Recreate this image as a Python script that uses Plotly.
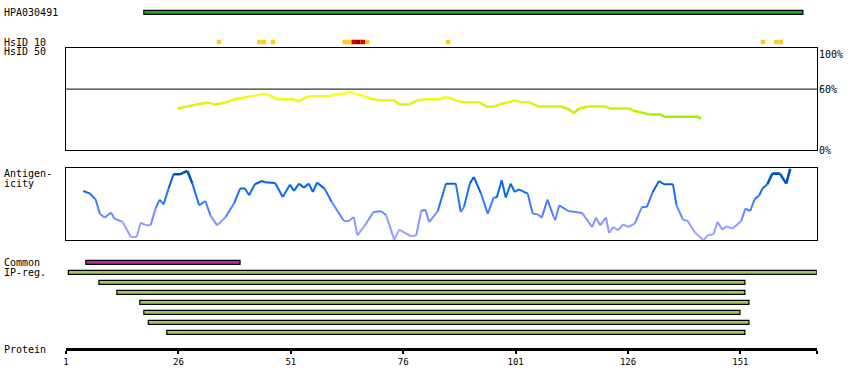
import plotly.graph_objects as go

# ---------------- data ----------------
PROTEIN_LENGTH = 168
tick_residues = [1, 26, 51, 76, 101, 126, 151]

hpa_label = "HPA030491"
hpa_start, hpa_end = 18.3, 164.9

hsid10_residues = [35, 44, 45, 47, 63, 64, 65, 66, 67, 68, 86, 156, 159, 160]
hsid10_level = [1, 1, 1, 1, 1, 1, 2, 3, 2, 1, 1, 1, 1, 1]  # 1=low,2=mid,3=high identity

hsid50_residues = [25.8, 27.8, 29.8, 32.6, 34.1, 36.4, 38.6, 40.2, 43.1, 44.7, 46.5, 48.0,
                   51.7, 52.6, 55.0, 59.7, 60.8, 63.5, 63.9, 65.2, 67.5, 68.6, 70.6, 73.9,
                   75.3, 77.2, 79.0, 80.8, 84.1, 85.2, 86.3, 87.4, 89.6, 93.0, 94.5, 96.3,
                   97.2, 99.0, 101.0, 101.9, 104.1, 106.0, 111.1, 112.7, 114.0, 115.1, 117.1,
                   121.1, 121.8, 126.2, 127.1, 128.9, 131.1, 133.3, 134.0, 141.5, 142.2]
hsid50_values = [41.0, 42.8, 44.8, 46.7, 44.8, 46.7, 50.0, 51.6, 53.6, 55.6, 53.6, 50.0,
                 50.0, 48.0, 53.0, 53.0, 55.0, 56.0, 58.0, 55.6, 53.0, 50.7, 49.0, 49.0,
                 44.8, 44.8, 48.7, 50.0, 50.0, 52.0, 51.6, 49.0, 47.0, 47.0, 42.8, 42.8,
                 44.8, 46.7, 49.0, 47.0, 47.0, 43.0, 43.0, 40.5, 36.6, 41.0, 43.0,
                 43.0, 41.0, 41.0, 39.0, 37.0, 35.0, 35.0, 33.0, 33.0, 31.0]

antigen_residues = [4.8, 6.3, 7.6, 8.5, 9.6, 11.0, 11.8, 13.6, 15.4, 16.7, 17.6, 18.7, 19.8,
                    20.9, 21.8, 22.7, 23.8, 24.9, 26.4, 27.1, 28.0, 29.1, 30.6, 32.0, 33.1,
                    34.6, 36.4, 38.4, 39.7, 40.8, 41.7, 43.0, 44.6, 45.2, 47.5, 49.2, 50.8,
                    51.7, 52.8, 53.9, 55.0, 55.9, 56.8, 58.5, 60.1, 62.8, 63.9, 65.0, 65.8,
                    67.2, 67.8, 69.4, 71.1, 72.2, 74.0, 75.1, 77.8, 78.9, 80.0, 80.9, 81.8,
                    83.7, 85.5, 87.7, 88.8, 89.5, 90.8, 91.7, 93.3, 94.8, 96.1, 96.8, 97.9,
                    98.8, 99.9, 100.8, 101.7, 103.7, 104.8, 105.9, 106.8, 108.1, 109.4, 109.8,
                    110.7, 112.7, 115.8, 118.0, 118.9, 119.8, 121.1, 121.8, 122.7, 123.8,
                    124.9, 126.0, 127.5, 129.1, 130.2, 131.5, 132.9, 134.0, 136.0, 136.8,
                    138.2, 139.3, 140.8, 142.8, 143.7, 145.0, 145.9, 147.0, 147.9, 149.2,
                    151.2, 152.1, 153.2, 154.1, 155.2, 155.9, 157.0, 158.1, 159.8, 161.2, 162.1]
antigen_values = [0.685, 0.65, 0.565, 0.37, 0.315, 0.385, 0.30, 0.255, 0.046, 0.046, 0.245, 0.21, 0.21,
                  0.44, 0.565, 0.50, 0.72, 0.917, 0.917, 0.94, 0.963, 0.787, 0.486, 0.546, 0.347,
                  0.208, 0.315, 0.518, 0.718, 0.718, 0.625, 0.778, 0.824, 0.806, 0.796, 0.602, 0.773,
                  0.685, 0.787, 0.732, 0.787, 0.671, 0.801, 0.718, 0.532, 0.268, 0.268, 0.324, 0.069,
                  0.185, 0.24, 0.393, 0.403, 0.347, 0.01, 0.148, 0.056, 0.069, 0.407, 0.426, 0.255,
                  0.407, 0.787, 0.787, 0.393, 0.46, 0.787, 0.88, 0.648, 0.37, 0.593, 0.593, 0.833,
                  0.593, 0.787, 0.671, 0.708, 0.648, 0.37, 0.363, 0.315, 0.565, 0.333, 0.278,
                  0.486, 0.407, 0.38, 0.185, 0.315, 0.208, 0.315, 0.102, 0.185, 0.139,
                  0.222, 0.185, 0.231, 0.463, 0.463, 0.671, 0.824, 0.778, 0.778, 0.486,
                  0.287, 0.268, 0.116, 0.0, 0.069, 0.083, 0.255, 0.148, 0.194, 0.162,
                  0.268, 0.44, 0.407, 0.565, 0.625, 0.718, 0.778, 0.926, 0.926, 0.787, 0.995]

common_start, common_end = 5.4, 39.7
ipreg_starts = [1.5, 8.3, 12.3, 17.4, 18.3, 19.3, 23.4]
ipreg_ends = [168.0, 152.0, 152.0, 152.9, 150.9, 152.9, 152.0]

# ---------------- styling / layout constants ----------------
W, H = 850, 390
X0, X1 = 63.3, 816.7
FONT = "DejaVu Sans Mono"


def py(p):
    """pixel row -> paper fraction"""
    return 1 - p / H


def lerp_color(stops, v):
    if v <= stops[0][0]:
        c = stops[0][1]
    elif v >= stops[-1][0]:
        c = stops[-1][1]
    else:
        for (a, ca), (b, cb) in zip(stops[:-1], stops[1:]):
            if a <= v <= b:
                t = (v - a) / (b - a)
                c = tuple(ca[i] + (cb[i] - ca[i]) * t for i in range(3))
                break
    return "rgb(%d,%d,%d)" % tuple(int(round(x)) for x in c)


hsid_stops = [(30, (150, 235, 0)), (40, (196, 245, 0)), (48, (235, 245, 10)), (56, (255, 255, 30))]
ag_stops = [(0.0, (180, 165, 255)), (0.25, (140, 150, 255)), (0.5, (60, 125, 255)),
            (0.75, (0, 102, 230)), (1.0, (0, 72, 150))]
hsid10_colors = {1: "#ffcc22", 2: "#dd0000", 3: "#990000"}

fig = go.Figure()

TRACK_HPA = 12.3
TRACK_HSID10 = 42.0
TRACK_COMMON = 262.3
TRACK_IP0 = 272.3
TRACK_IP_STEP = 10.0

fig.add_trace(go.Bar(orientation="h", x=[hpa_end - hpa_start], base=[hpa_start], y=[TRACK_HPA],
                     width=4, marker=dict(color="#1ea51e", line=dict(color="black", width=1.2)),
                     xaxis="x", yaxis="y3", hoverinfo="skip"))

fig.add_trace(go.Bar(orientation="h", x=[1] * len(hsid10_residues),
                     base=[r - 0.5 for r in hsid10_residues], y=[TRACK_HSID10] * len(hsid10_residues),
                     width=4.5, marker=dict(color=[hsid10_colors[l] for l in hsid10_level], line=dict(width=0)),
                     xaxis="x", yaxis="y3", hoverinfo="skip"))

fig.add_trace(go.Bar(orientation="h", x=[common_end - common_start], base=[common_start], y=[TRACK_COMMON],
                     width=4, marker=dict(color="#c425a8", line=dict(color="black", width=1.2)),
                     xaxis="x", yaxis="y3", hoverinfo="skip"))

ip_rows = [TRACK_IP0 + TRACK_IP_STEP * i for i in range(len(ipreg_starts))]
fig.add_trace(go.Bar(orientation="h", x=[e - s for s, e in zip(ipreg_starts, ipreg_ends)], base=ipreg_starts,
                     y=ip_rows, width=4, marker=dict(color="#a3c95e", line=dict(color="black", width=1.2)),
                     xaxis="x", yaxis="y3", hoverinfo="skip"))

for i in range(len(hsid50_residues) - 1):
    v = (hsid50_values[i] + hsid50_values[i + 1]) / 2
    fig.add_trace(go.Scatter(x=hsid50_residues[i:i + 2], y=hsid50_values[i:i + 2], mode="lines",
                             line=dict(color=lerp_color(hsid_stops, v), width=2.5),
                             xaxis="x2", yaxis="y", hoverinfo="skip"))

for i in range(len(antigen_residues) - 1):
    v = (antigen_values[i] + antigen_values[i + 1]) / 2
    fig.add_trace(go.Scatter(x=antigen_residues[i:i + 2], y=antigen_values[i:i + 2], mode="lines",
                             line=dict(color=lerp_color(ag_stops, v), width=2.6 if v > 0.85 else 2),
                             xaxis="x3", yaxis="y2", hoverinfo="skip"))

dom_x = [X0 / W, X1 / W]
xr = [1, PROTEIN_LENGTH]

fig.update_layout(
    width=W, height=H, margin=dict(l=0, r=0, t=0, b=0),
    paper_bgcolor="white", plot_bgcolor="rgba(0,0,0,0)",
    showlegend=False, barmode="overlay",
    font=dict(family=FONT, size=10, color="black"),
    xaxis=dict(domain=dom_x, range=xr, anchor="free", position=py(349.3),
               showline=True, linewidth=3, linecolor="black", showgrid=False, zeroline=False,
               ticks="outside", ticklen=3, tickwidth=2, tickcolor="black",
               tickvals=tick_residues + [PROTEIN_LENGTH],
               ticktext=[str(t) for t in tick_residues] + [""],
               tickfont=dict(family=FONT, size=9, color="black")),
    xaxis2=dict(domain=dom_x, range=xr, anchor="y", showline=True, mirror=True, linewidth=1,
                linecolor="black", showgrid=False, zeroline=False, showticklabels=False, ticks=""),
    xaxis3=dict(domain=dom_x, range=xr, anchor="y2", showline=True, mirror=True, linewidth=1,
                linecolor="black", showgrid=False, zeroline=False, showticklabels=False, ticks=""),
    yaxis=dict(domain=[py(150.3), py(48.3)], range=[0, 100], anchor="x2", showline=True, mirror=True,
               linewidth=1, linecolor="black", showgrid=False, zeroline=False, showticklabels=False, ticks=""),
    yaxis2=dict(domain=[py(240.3), py(168.3)], range=[0, 1], anchor="x3", showline=True, mirror=True,
                linewidth=1, linecolor="black", showgrid=False, zeroline=False, showticklabels=False, ticks=""),
    yaxis3=dict(domain=[0, 1], range=[H, 0], anchor="x", visible=False, showgrid=False, zeroline=False),
)

fig.add_shape(type="line", xref="x2 domain", yref="y", x0=0, x1=1, y0=60, y1=60,
              line=dict(color="black", width=1))

left_labels = [(hpa_label, 12.3), ("HsID 10", 42), ("HsID 50", 52), ("Antigen-", 173), ("icity", 183),
               ("Common", 262), ("IP-reg.", 272), ("Protein", 349.5)]
for txt, yp in left_labels:
    fig.add_annotation(text=txt, xref="paper", yref="paper", x=0, y=py(yp), xanchor="left",
                       yanchor="middle", showarrow=False, borderpad=0,
                       font=dict(family=FONT, size=10, color="black"))

for txt, yv, anc in [("100%", 100, "top"), ("60%", 60, "middle"), ("0%", 0, "middle")]:
    fig.add_annotation(text=txt, xref="paper", yref="y", x=818 / W, y=yv, xanchor="left", yanchor=anc,
                       showarrow=False, borderpad=0, font=dict(family=FONT, size=10, color="black"))

fig.write_html("out.html", config={"displayModeBar": False},
               post_script="document.body.style.margin='0';document.body.style.padding='0';")
